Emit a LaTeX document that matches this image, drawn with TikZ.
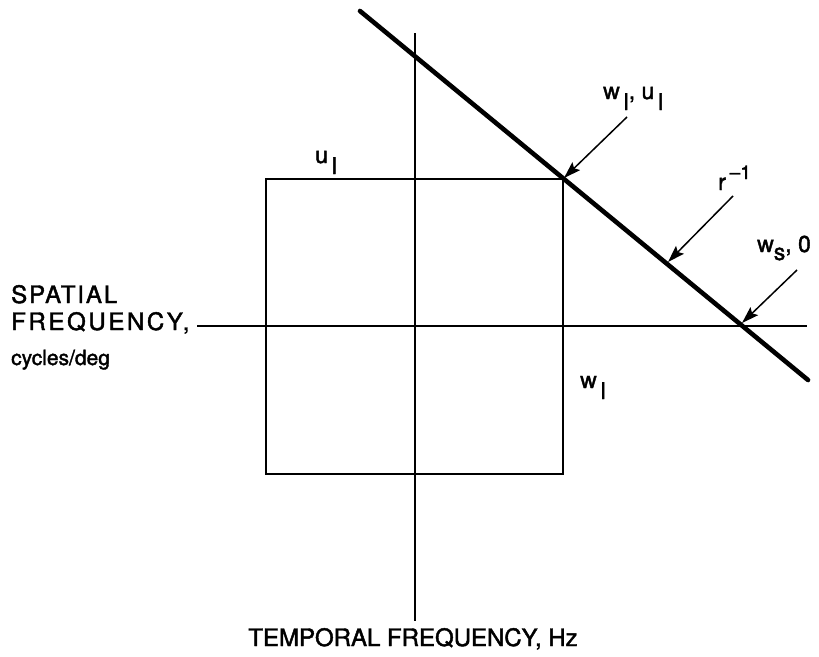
\documentclass[tikz,border=0pt]{standalone}
\usepackage{fontspec}
\setmainfont[FakeBold=1.8]{TeX Gyre Heros}
\newfontfamily\spacedA[LetterSpace=8,FakeBold=1.8]{TeX Gyre Heros}
\newfontfamily\spacedB[LetterSpace=11,FakeBold=1.8]{TeX Gyre Heros}
\usetikzlibrary{arrows.meta}
\newcommand{\lowsub}[2]{\raisebox{-#1}{#2}}
\newcommand{\highsup}[2]{\raisebox{#1}{\fontsize{19}{19}\selectfont #2}}
\tikzset{
  axis/.style={line width=1.6pt},
  boxline/.style={line width=2.4pt},
  thickline/.style={line width=4.6pt, line cap=round},
  pointer/.style={line width=1.5pt, -{Stealth[length=17pt,width=11pt,inset=3pt]}},
  lab/.style={anchor=base west, inner sep=0pt, font=\fontsize{23}{26}\selectfont},
}
\begin{document}
\begin{tikzpicture}[x=1pt,y=-1pt]
\useasboundingbox (0,0) rectangle (819,656);
% axes
\coordinate (hL) at (197,326);
\coordinate (hR) at (807,326);
\coordinate (vT) at (415,33);
\coordinate (vB) at (415,621);
\draw[axis] (hL) -- (hR);
\draw[axis] (vT) -- (vB);
% box
\coordinate (bTL) at (266,179);
\coordinate (bBR) at (563,474);
\draw[boxline] (bTL) rectangle (bBR);
% thick line
\coordinate (tA) at (360,11);
\coordinate (tB) at (808,380);
\draw[thickline] (tA) -- (tB);
% arrow targets
\coordinate (p1) at (564,178);
\coordinate (p2) at (668,262);
\coordinate (p3) at (742,323);
\coordinate (s1) at (627,117);
\coordinate (s2) at (733,196);
\coordinate (s3) at (797,270);
\draw[pointer] (s1) -- (p1);
\draw[pointer] (s2) -- (p2);
\draw[pointer] (s3) -- (p3);
% labels
\node[lab] (l1) at (603,99) {w\,\lowsub{11pt}{l}, u\,\lowsub{11pt}{l}};
\node[lab] (l2) at (718,190) {r\,\highsup{11pt}{–1}};
\node[lab] (l3) at (757,252) {w\lowsub{8pt}{s}, 0};
\node[lab] (l4) at (315,163) {u\,\lowsub{11pt}{l}};
\node[lab] (l5) at (580,388) {w\,\lowsub{11pt}{l}};
\node[anchor=base west, inner sep=0pt, font=\spacedA\fontsize{24}{26}\selectfont] (sp1) at (11,303) {SPATIAL};
\node[anchor=base west, inner sep=0pt, font=\spacedB\fontsize{24}{26}\selectfont] (sp2) at (11,330) {FREQUENCY,};
\node[anchor=base west, inner sep=0pt, font=\fontsize{21}{23}\selectfont] (sp3) at (11,365) {cycles/deg};
\node[anchor=base, inner sep=0pt, font=\fontsize{24}{26}\selectfont] (tf) at (413,646) {TEMPORAL FREQUENCY, Hz};
\end{tikzpicture}
\end{document}
